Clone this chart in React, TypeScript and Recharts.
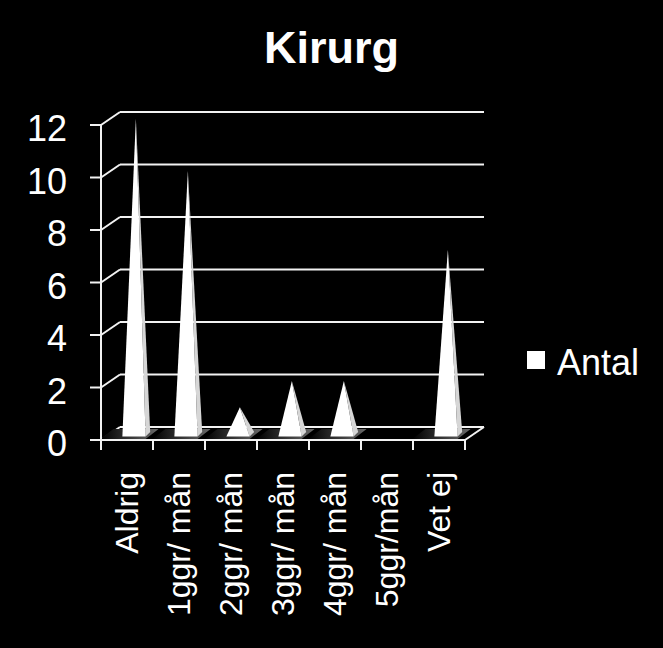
import React from "react";
import { Bar, BarChart, CartesianGrid, Legend, XAxis, YAxis } from "recharts";

const title = "Kirurg";
const seriesName = "Antal";
const categories = ["Aldrig", "1ggr/ mån", "2ggr/ mån", "3ggr/ mån", "4ggr/ mån", "5ggr/mån", "Vet ej"];
const antal = [12, 10, 1, 2, 2, 0, 7];
const yTicks = [0, 2, 4, 6, 8, 10, 12];

const data = categories.map((name, i) => ({ name, antal: antal[i] }));

const W = 663;
const H = 648;
const margin = { top: 125, right: 198, bottom: 28, left: 30 };
const Y_AXIS_W = 71;
const X_AXIS_H = 180;
// offset of the back wall, gives the 3d look
const DEPTH_X = 19;
const DEPTH_Y = 13;
const FONT = '"Liberation Sans", Arial, sans-serif';
const LINE = "#f2f2f2";

const backLine = (p: any) => {
  const { x1, x2, y1 } = p;
  return (
    <g key={`grid-${y1}`}>
      <line x1={x1} y1={y1} x2={x1 + DEPTH_X} y2={y1 - DEPTH_Y} stroke={LINE} strokeWidth={2} />
      <line
        x1={x1 + DEPTH_X}
        y1={y1 - DEPTH_Y}
        x2={x2 + DEPTH_X}
        y2={y1 - DEPTH_Y}
        stroke={LINE}
        strokeWidth={2}
      />
    </g>
  );
};

const Pyramid = (p: any) => {
  const { x, y, width, height, index, payload } = p;
  if (!payload || !payload.antal) return <g />;
  const base = y + height;
  const fl = x + width * 0.31;
  const fr = x + width * 1.17;
  const br = x + width * 1.34;
  const ax = x + width * 0.81;
  const baseY = base - 3.5;
  const apexY = y - DEPTH_Y / 2;
  const id = `shade-${index}`;
  return (
    <g>
      <defs>
        <linearGradient id={id} x1="0" y1="0" x2="1" y2="0">
          <stop offset="0" stopColor="#000" />
          <stop offset="1" stopColor="#6a6a6a" />
        </linearGradient>
      </defs>
      <polygon
        points={`${fl - 22},${base - 1} ${fr},${base - 1} ${fr + 13},${base - 11} ${fl - 9},${base - 11}`}
        fill={`url(#${id})`}
      />
      <polygon points={`${fr},${baseY} ${br},${base - 8} ${ax},${apexY}`} fill="#d6d6d6" />
      <polygon points={`${fl},${baseY} ${fr},${baseY} ${ax},${apexY}`} fill="#ffffff" />
    </g>
  );
};

const YTick = (p: any) => {
  const { x, y, payload } = p;
  return (
    <text x={x} y={y} dy={16} textAnchor="end" fill="#fff" fontSize={36} fontFamily={FONT}>
      {payload.value}
    </text>
  );
};

const XTick = (p: any) => {
  const { x, y, payload, index } = p;
  const axisY = y - 10;
  const half =
    typeof payload.offset === "number" && payload.offset > 0
      ? payload.offset
      : (W - margin.left - Y_AXIS_W - margin.right) / categories.length / 2;
  const last = index === categories.length - 1 || payload.value === categories[categories.length - 1];
  return (
    <g>
      <line x1={x - half} y1={axisY} x2={x - half} y2={axisY + 10} stroke={LINE} strokeWidth={2} />
      {last && (
        <>
          <line x1={x + half} y1={axisY} x2={x + half} y2={axisY + 10} stroke={LINE} strokeWidth={2} />
          <line
            x1={x + half}
            y1={axisY}
            x2={x + half + DEPTH_X}
            y2={axisY - DEPTH_Y}
            stroke={LINE}
            strokeWidth={2}
          />
        </>
      )}
      <g transform={`translate(${x + 11},${axisY + 32})`}>
        <text transform="rotate(-90)" textAnchor="end" fill="#fff" fontSize={32} fontFamily={FONT}>
          {payload.value}
        </text>
      </g>
    </g>
  );
};

const LegendBox = () => (
  <svg width={130} height={50}>
    <rect x={0} y={11} width={18} height={18} fill="#fff" />
    <text x={30} y={35} fill="#fff" fontSize={36} fontFamily={FONT}>
      {seriesName}
    </text>
  </svg>
);

export default function App() {
  return (
    <div
      style={{
        position: "absolute",
        left: 0,
        top: 0,
        width: W,
        height: H,
        background: "#000",
        fontFamily: FONT,
      }}
    >
      <div
        style={{
          position: "absolute",
          top: 25,
          left: 0,
          width: W,
          textAlign: "center",
          color: "#fff",
          fontSize: 45,
          lineHeight: "45px",
          fontWeight: "bold",
        }}
      >
        {title}
      </div>
      <BarChart width={W} height={H} data={data} margin={margin}>
        <CartesianGrid horizontal={backLine} vertical={false} />
        <XAxis
          dataKey="name"
          height={X_AXIS_H}
          interval={0}
          tickLine={false}
          tickSize={10}
          tickMargin={0}
          axisLine={{ stroke: LINE, strokeWidth: 2 }}
          tick={<XTick />}
        />
        <YAxis
          width={Y_AXIS_W}
          domain={[0, 12]}
          ticks={yTicks}
          interval={0}
          tickSize={11}
          tickMargin={23}
          tickLine={{ stroke: LINE, strokeWidth: 2 }}
          axisLine={{ stroke: LINE, strokeWidth: 2 }}
          tick={<YTick />}
        />
        <Legend
          layout="vertical"
          align="center"
          verticalAlign="middle"
          wrapperStyle={{ left: 527, top: 340, width: 130, height: 50 }}
          content={() => <LegendBox />}
        />
        <Bar dataKey="antal" name={seriesName} barSize={27} shape={<Pyramid />} isAnimationActive={false} />
      </BarChart>
    </div>
  );
}
